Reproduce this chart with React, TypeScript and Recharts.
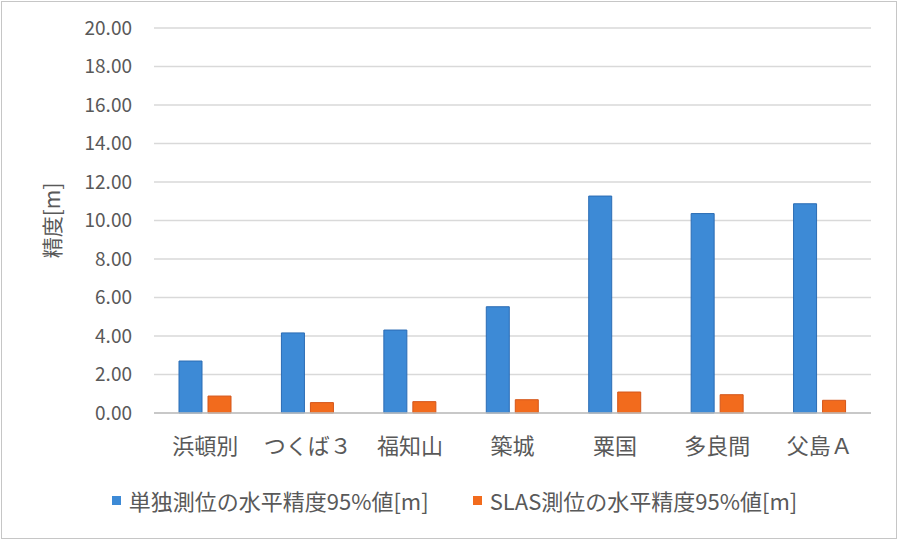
import React from 'react';
import { BarChart, Bar, XAxis, YAxis, CartesianGrid, Legend, Label } from 'recharts';

const categories = ['浜頓別', 'つくば３', '福知山', '築城', '粟国', '多良間', '父島Ａ'];
const standaloneValues = [2.70, 4.16, 4.31, 5.52, 11.27, 10.36, 10.87];
const slasValues = [0.88, 0.54, 0.59, 0.69, 1.09, 0.95, 0.66];
const seriesNames = ['単独測位の水平精度95%値[m]', 'SLAS測位の水平精度95%値[m]'];
const yTicks = [0, 2, 4, 6, 8, 10, 12, 14, 16, 18, 20];
const yLabel = '精度[m]';

const data = categories.map((c, i) => ({ name: c, a: standaloneValues[i], b: slasValues[i] }));

const FONT = "'Noto Sans CJK JP', 'Noto Sans', sans-serif";
const TEXT = '#595959';

const LegendContent = (props: any) => {
  const payload = [...(props.payload || [])].sort(
    (x: any, y: any) => seriesNames.indexOf(x.value) - seriesNames.indexOf(y.value)
  );
  return (
    <div style={{ display: 'flex', justifyContent: 'center', alignItems: 'center', fontFamily: FONT, fontSize: 22, color: TEXT, height: 30, paddingLeft: 38 }}>
      {payload.map((p: any, i: number) => (
        <div key={i} style={{ display: 'flex', alignItems: 'center', marginLeft: i === 0 ? 0 : 44 }}>
          <span style={{ display: 'inline-block', width: 9, height: 9, background: p.color, marginRight: 8 }} />
          <span>{p.value}</span>
        </div>
      ))}
    </div>
  );
};

export default function App() {
  return (
    <div style={{ position: 'absolute', left: 0, top: 0, width: 900, height: 541, background: '#fff' }}>
      <div style={{ position: 'absolute', left: 1, top: 1, width: 894, height: 536, border: '1px solid #c6c6c6' }} />
      <div style={{ position: 'absolute', left: 0, top: 0 }}>
        <BarChart width={900} height={541} data={data} margin={{ top: 28, right: 29, left: 0, bottom: 26 }} barSize={23} barGap={6}>
          <CartesianGrid vertical={false} stroke="#d9d9d9" strokeWidth={1.3} />
          <XAxis
            dataKey="name"
            height={72}
            tickLine={false}
            tickSize={0}
            tickMargin={25}
            axisLine={{ stroke: '#bfbfbf', strokeWidth: 1.3 }}
            tick={{ fill: TEXT, fontSize: 22, fontFamily: FONT }}
            interval={0}
          />
          <YAxis
            width={154}
            domain={[0, 20]}
            ticks={yTicks}
            tickFormatter={(v: number) => v.toFixed(2)}
            axisLine={false}
            tickLine={false}
            tickSize={0}
            tickMargin={22}
            tick={{ fill: TEXT, fontSize: 19, fontFamily: FONT }}
          >
            <Label
              content={(p: any) => {
                const vb = p.viewBox;
                const cx = vb.x + 51;
                const cy = vb.y + vb.height / 2;
                return (
                  <text x={cx} y={cy} transform={`rotate(-90, ${cx}, ${cy})`} textAnchor="middle" dominantBaseline="central" fill={TEXT} fontSize={21} fontFamily={FONT}>
                    {yLabel}
                  </text>
                );
              }}
            />
          </YAxis>
          <Legend verticalAlign="bottom" height={30} content={<LegendContent />} />
          <Bar dataKey="a" name={seriesNames[0]} fill="#3d8ad6" stroke="#2b6cb4" strokeWidth={1} isAnimationActive={false} />
          <Bar dataKey="b" name={seriesNames[1]} fill="#f26b1d" stroke="#d4561a" strokeWidth={1} isAnimationActive={false} />
        </BarChart>
      </div>
    </div>
  );
}
